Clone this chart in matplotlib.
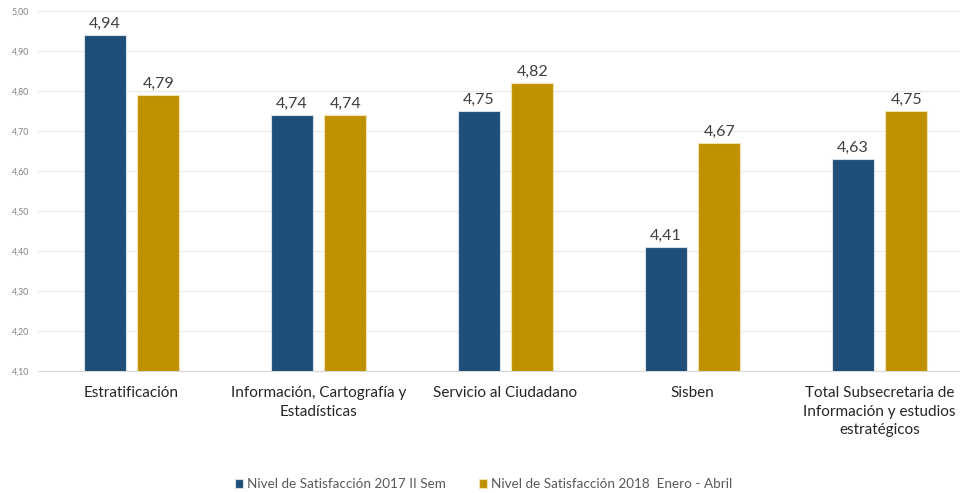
import numpy as np
import matplotlib.pyplot as plt
from matplotlib.ticker import FuncFormatter

categorias = ["Estratificación",
              "Información, Cartografía y\nEstadísticas",
              "Servicio al Ciudadano",
              "Sisben",
              "Total Subsecretaria de\nInformación y estudios\nestratégicos"]
sat_2017 = [4.94, 4.74, 4.75, 4.41, 4.63]
sat_2018 = [4.79, 4.74, 4.82, 4.67, 4.75]
serie_2017 = "Nivel de Satisfacción 2017 II Sem"
serie_2018 = "Nivel de Satisfacción 2018  Enero - Abril"

azul = "#1F4E79"
dorado = "#BF9000"

plt.rcParams['font.family'] = ['Lato', 'DejaVu Sans']

fig = plt.figure(figsize=(9.6, 4.93), dpi=100)
# the reference is cropped on the right, so the axes run past the figure edge
ax = fig.add_axes([38/960, 1 - 371/493, 935/960, 360/493])

x = np.arange(len(categorias))
w = 0.225
off = 0.143
b1 = ax.bar(x - off, sat_2017, w, bottom=0, color=azul, edgecolor="#D6E0EA", linewidth=0.8, label=serie_2017, zorder=3)
b2 = ax.bar(x + off, sat_2018, w, bottom=0, color=dorado, edgecolor="#F2E2B0", linewidth=0.8, label=serie_2018, zorder=3)

for bars, vals in ((b1, sat_2017), (b2, sat_2018)):
    for r, v in zip(bars, vals):
        ax.text(r.get_x() + r.get_width()/2, v + 0.011, f"{v:.2f}".replace(".", ","),
                ha="center", va="bottom", fontsize=11.5, color="#404040")

ax.set_xlim(-0.5, len(categorias) - 0.5)
ax.set_ylim(4.10, 5.00)
ax.set_yticks(np.arange(4.10, 5.001, 0.10))
ax.yaxis.set_major_formatter(FuncFormatter(lambda v, p: f"{v:.2f}".replace(".", ",")))
ax.tick_params(axis="y", length=0, labelsize=6.3, labelcolor="#7F7F7F", pad=6.5)
ax.tick_params(axis="x", length=0, labelsize=11, labelcolor="#262626", pad=10.5)
ax.set_xticks(x)
ax.set_xticklabels(categorias, linespacing=1.45)
ax.grid(axis="y", color="#EBEBEB", linewidth=1, zorder=0)
for s in ("top", "right", "left"):
    ax.spines[s].set_visible(False)
ax.spines["bottom"].set_color("#D9D9D9")

leg_kw = dict(loc="center left", frameon=False, fontsize=9.7, labelcolor="#595959",
              handlelength=0.62, handleheight=0.62, handletextpad=0.3,
              borderpad=0, borderaxespad=0)
fig.legend(handles=[b1], bbox_to_anchor=(235/960, 1 - 484/493), **leg_kw)
fig.legend(handles=[b2], bbox_to_anchor=(479/960, 1 - 484/493), **leg_kw)

fig.savefig("out.png", dpi=100)
